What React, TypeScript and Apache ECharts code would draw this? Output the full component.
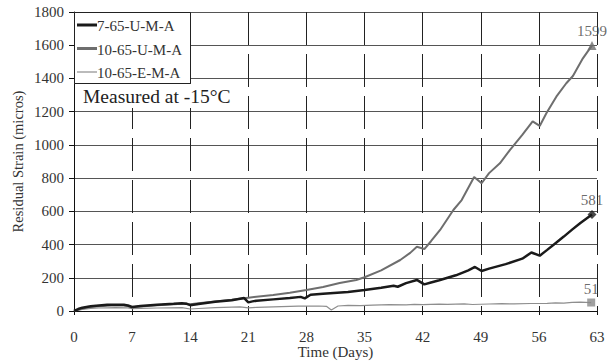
import React, { useEffect, useRef } from "react";
import * as echarts from "echarts";

// Residual strain (micros) against time (days), measured at -15 °C
const seriesNames = ["7-65-U-M-A", "10-65-U-M-A", "10-65-E-M-A"];
const seriesColors = ["#1a1a1a", "#6e6e6e", "#8e8e8e"];
const seriesWidths = [2.5, 2, 1.2];

const days765U = [0, 0.5, 1, 2, 3, 4, 5, 6, 6.5, 7, 7.5, 8, 10, 12, 13, 13.5, 14, 15, 17, 19, 20.5, 21, 21.5, 22, 24, 26, 27.3, 27.8, 28.5, 30, 33, 35, 37, 38.5, 39, 40, 41.3, 42.2, 43, 44, 46, 47.5, 48.3, 49.1, 50, 52, 54, 55.1, 56.1, 57, 58, 59, 60, 61, 62.4];
const strain765U = [0, 12, 20, 28, 33, 37, 38, 37, 33, 24, 27, 30, 37, 43, 47, 44, 35, 42, 55, 65, 78, 52, 58, 62, 70, 78, 85, 76, 98, 104, 115, 126, 140, 152, 146, 168, 187, 160, 172, 185, 215, 245, 265, 241, 255, 282, 315, 352, 333, 368, 408, 448, 490, 530, 581];

const days1065U = [0, 0.5, 1, 2, 3, 4, 5, 6, 6.5, 7, 8, 10, 12, 13.5, 14, 15, 17, 19, 20.5, 21, 24, 26, 28, 30, 32, 34, 35, 37, 39.3, 40.5, 41.3, 42.2, 43, 44.1, 45.7, 46.7, 48.2, 49.1, 50, 51.3, 52.5, 54, 55.25, 56.1, 56.9, 58.1, 59.3, 60.1, 61.3, 62.4];
const strain1065U = [0, 8, 15, 24, 29, 32, 34, 33, 30, 22, 27, 34, 41, 45, 40, 46, 57, 68, 77, 80, 97, 110, 126, 145, 168, 187, 203, 245, 307, 350, 387, 373, 420, 488, 608, 668, 807, 769, 830, 889, 969, 1060, 1142, 1114, 1190, 1290, 1371, 1415, 1521, 1599];

const days1065E = [0, 1, 2, 3, 5, 6.5, 7, 8, 10, 13, 14, 15, 17, 20, 21, 22, 24, 27, 29.5, 30.4, 31, 31.8, 33, 34.5, 36, 38, 40, 41, 42, 44, 45, 47, 48, 50, 51.5, 53, 55, 57, 58, 59, 60, 61, 62.3];
const strain1065E = [0, 10, 15, 18, 20, 19, 14, 16, 18, 20, 12, 15, 20, 25, 19, 22, 25, 29, 30, 28, 6, 30, 34, 32, 35, 38, 37, 40, 38, 41, 40, 43, 39, 42, 44, 43, 45, 46, 49, 47, 52, 54, 51];

const xTicks = { min: 0, max: 63, interval: 7 };
const yTicks = { min: 0, max: 1800, interval: 200 };

const FONT = "Liberation Serif";
const TEXT = "#333";

const toPairs = (xs: number[], ys: number[]) => xs.map((x, i) => [x, ys[i]]);
const lastOf = (xs: number[], ys: number[]) => [[xs[xs.length - 1], ys[ys.length - 1]]];

function endMarker(name: string, xs: number[], ys: number[], symbol: string, size: number, color: string) {
  return {
    name,
    type: "scatter",
    symbol,
    symbolSize: size,
    itemStyle: { color },
    label: {
      show: true,
      position: "top",
      distance: 2,
      formatter: (p: any) => String(p.value[1]),
      fontFamily: FONT,
      fontSize: 15,
      color: "#444",
    },
    data: lastOf(xs, ys),
    z: 5,
  };
}

// Boxed key in the top-left corner of the plot
function legendGraphics() {
  const box = { x: 74.5, y: 12.5, w: 116, h: 71 };
  const rows = [25, 48.5, 72];
  const items: any[] = [
    {
      type: "rect",
      shape: { x: box.x, y: box.y, width: box.w, height: box.h },
      style: { fill: "#fff", stroke: "#222", lineWidth: 1 },
      z: 10,
    },
  ];
  seriesNames.forEach((name, i) => {
    items.push({
      type: "line",
      shape: { x1: 77, y1: rows[i], x2: 97, y2: rows[i] },
      style: { stroke: seriesColors[i], lineWidth: i === 2 ? 1.2 : 3 },
      z: 11,
    });
    items.push({
      type: "text",
      x: 97,
      y: rows[i] + 1,
      style: {
        text: name,
        fontFamily: FONT,
        fontSize: 15,
        fill: TEXT,
        verticalAlign: "middle",
      },
      z: 11,
    });
  });
  return items;
}

export default function App() {
  const ref = useRef<HTMLDivElement>(null);

  useEffect(() => {
    if (!ref.current) return;
    const chart = echarts.init(ref.current, undefined, { renderer: "svg" });
    chart.setOption({
      animation: false,
      backgroundColor: "#fff",
      textStyle: { fontFamily: FONT },
      grid: { left: 74, right: 18, top: 12, bottom: 52, containLabel: false, outerBoundsMode: "none" },
      graphic: [
        ...legendGraphics(),
        {
          type: "rect",
          shape: { x: 75, y: 84, width: 165, height: 24 },
          style: { fill: "#fff" },
          z: 5,
        },
        {
          type: "text",
          x: 83,
          y: 96,
          style: {
            text: "Measured at -15°C",
            fontFamily: FONT,
            fontSize: 19.5,
            fill: "#222",
            verticalAlign: "middle",
          },
          z: 7,
        },
      ],
      xAxis: {
        type: "value",
        min: xTicks.min,
        max: xTicks.max,
        interval: xTicks.interval,
        name: "Time (Days)",
        nameLocation: "middle",
        nameGap: 33,
        nameMoveOverlap: false,
        nameTextStyle: { fontFamily: FONT, fontSize: 15, color: TEXT },
        axisLine: { show: true, onZero: false, lineStyle: { color: "#111", width: 1 } },
        axisTick: { show: true, inside: false, length: 4, lineStyle: { color: "#111" } },
        axisLabel: { margin: 18, fontFamily: FONT, fontSize: 15, color: TEXT },
        splitLine: { show: true, lineStyle: { color: "#222", width: 1, type: [33, 9] } },
      },
      yAxis: {
        type: "value",
        min: yTicks.min,
        max: yTicks.max,
        interval: yTicks.interval,
        name: "Residual Strain (micros)",
        nameLocation: "middle",
        nameGap: 49,
        nameMoveOverlap: false,
        nameTextStyle: { fontFamily: FONT, fontSize: 14.5, color: TEXT },
        axisLine: { show: true, lineStyle: { color: "#111", width: 1 } },
        axisTick: { show: true, inside: false, length: 5, lineStyle: { color: "#111" } },
        axisLabel: {
          margin: 10,
          fontFamily: FONT,
          fontSize: 15,
          color: TEXT,
          formatter: (v: number) => String(v),
        },
        splitLine: { show: true, lineStyle: { color: "#555", width: 1 } },
      },
      series: [
        {
          name: seriesNames[0],
          type: "line",
          symbol: "none",
          showSymbol: false,
          color: seriesColors[0],
          lineStyle: { width: seriesWidths[0], color: seriesColors[0] },
          data: toPairs(days765U, strain765U),
          z: 4,
        },
        {
          name: seriesNames[1],
          type: "line",
          symbol: "none",
          showSymbol: false,
          color: seriesColors[1],
          lineStyle: { width: seriesWidths[1], color: seriesColors[1] },
          data: toPairs(days1065U, strain1065U),
          z: 3,
        },
        {
          name: seriesNames[2],
          type: "line",
          symbol: "none",
          showSymbol: false,
          color: seriesColors[2],
          lineStyle: { width: seriesWidths[2], color: seriesColors[2] },
          data: toPairs(days1065E, strain1065E),
          z: 2,
        },
        endMarker("end-765U", days765U, strain765U, "diamond", 9, "#1a1a1a"),
        endMarker("end-1065U", days1065U, strain1065U, "triangle", 9, "#6e6e6e"),
        endMarker("end-1065E", days1065E, strain1065E, "rect", 8, "#8a8a8a"),
      ],
    });
    return () => chart.dispose();
  }, []);

  return (
    <div
      ref={ref}
      style={{ position: "absolute", left: 0, top: 0, width: 615, height: 363 }}
    />
  );
}
